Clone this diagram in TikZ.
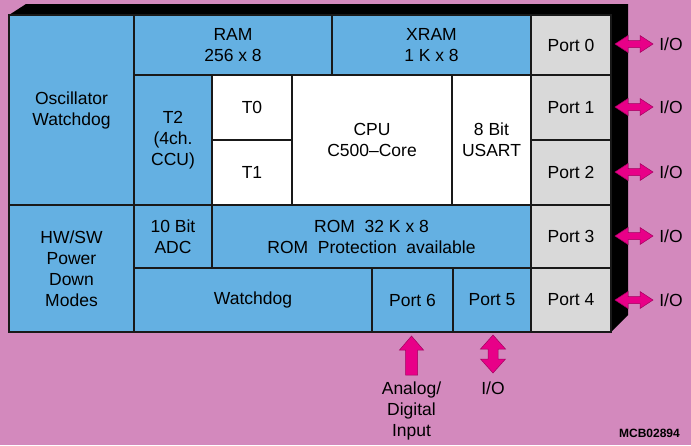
\documentclass[tikz,border=0pt]{standalone}
\usepackage{fontspec}
\setmainfont{Liberation Sans}
\definecolor{bgpink}{RGB}{211,137,189}
\definecolor{chipblue}{RGB}{100,176,226}
\definecolor{portgray}{RGB}{217,217,217}
\definecolor{arrmag}{RGB}{232,0,136}
\definecolor{edge}{RGB}{25,25,25}
\newcommand\cell[7]{%
  \draw[cellline, fill=#6] (#2,#3) rectangle (#4,#5);
  \node[celltext] (#1) at ({(#2+#4)/2},{(#3+#5)/2}) {#7};}
\newcommand\hdarr[1]{%
  \begin{scope}[shift={(#1)}]
  \filldraw[arrshape] (-19,0)--(-6,-8.5)--(-6,-3.5)--(6,-3.5)--(6,-8.5)--(19,0)--(6,8.5)--(6,3.5)--(-6,3.5)--(-6,8.5)--cycle;
  \end{scope}}
\newcommand\vdarr[1]{%
  \begin{scope}[shift={(#1)}]
  \filldraw[arrshape] (0,-19)--(-12.5,-5)--(-5,-5)--(-5,5)--(-12.5,5)--(0,19)--(12.5,5)--(5,5)--(5,-5)--(12.5,-5)--cycle;
  \end{scope}}
\newcommand\uparr[1]{%
  \begin{scope}[shift={(#1)}]
  \filldraw[arrshape] (0,0)--(-12,14)--(-6,14)--(-6,39)--(6,39)--(6,14)--(12,14)--cycle;
  \end{scope}}
\begin{document}
\begin{tikzpicture}[x=1pt,y=-1pt,
  cellline/.style={draw=edge, line width=1.2pt},
  celltext/.style={align=center, inner sep=0pt, font=\fontsize{17.5}{21}\selectfont, text=black},
  iotext/.style={align=center, inner sep=0pt, font=\fontsize{17.5}{21}\selectfont, text=black},
  arrshape/.style={fill=arrmag, draw=arrmag!70!black, line width=0.5pt, line join=miter}]
\fill[bgpink] (0,0) rectangle (691,445);
\useasboundingbox (0,0) rectangle (691,445);
% 3D body
\fill[black] (9,15)--(26,4)--(628,4)--(628,315)--(611,332)--(9,332)--cycle;
% cells
\cell{osc}{9}{15}{134}{205}{chipblue}{Oscillator\\Watchdog}
\cell{ram}{134}{15}{332}{75}{chipblue}{RAM\\256 x 8}
\cell{xram}{332}{15}{531}{75}{chipblue}{XRAM\\1 K x 8}
\cell{t2}{134}{75}{212}{205}{chipblue}{T2\\(4ch.\\CCU)}
\cell{t0}{212}{75}{292}{140}{white}{T0}
\cell{t1}{212}{140}{292}{205}{white}{T1}
\cell{cpu}{292}{75}{452}{205}{white}{CPU\\C500–Core}
\cell{usart}{452}{75}{531}{205}{white}{8 Bit\\USART}
\cell{hw}{9}{205}{134}{332}{chipblue}{HW/SW\\Power\\Down\\Modes}
\cell{adc}{134}{205}{212}{268}{chipblue}{10 Bit\\ADC}
\cell{rom}{212}{205}{531}{268}{chipblue}{ROM\ \ 32 K x 8\\ROM\ \ Protection\ \ available}
\cell{wd}{134}{268}{372}{332}{chipblue}{Watchdog}
\cell{p6}{372}{268}{453}{332}{chipblue}{Port 6}
\cell{p5}{453}{268}{531}{332}{chipblue}{Port 5}
\cell{p0}{531}{15}{611}{75}{portgray}{Port 0}
\cell{p1}{531}{75}{611}{140}{portgray}{Port 1}
\cell{p2}{531}{140}{611}{205}{portgray}{Port 2}
\cell{p3}{531}{205}{611}{268}{portgray}{Port 3}
\cell{p4}{531}{268}{611}{332}{portgray}{Port 4}
% right side I/O
\foreach \n/\y in {0/44,1/107,2/172,3/236,4/300}{
  \coordinate (a\n) at (634,\y);
  \hdarr{a\n}
  \node[iotext] (io\n) at (671,\y) {I/O};
}
% bottom arrows
\coordinate (a6) at (411.5,336);
\uparr{a6}
\coordinate (a5) at (493,354);
\vdarr{a5}
\node[iotext, anchor=north] (in6) at (411.5,382) {Analog/\\Digital\\Input};
\node[iotext, anchor=north] (io5) at (493,382) {I/O};
\node[inner sep=0pt, anchor=east, font=\bfseries\fontsize{12}{14}\selectfont] (code) at (680,433) {MCB02894};
\end{tikzpicture}
\end{document}
